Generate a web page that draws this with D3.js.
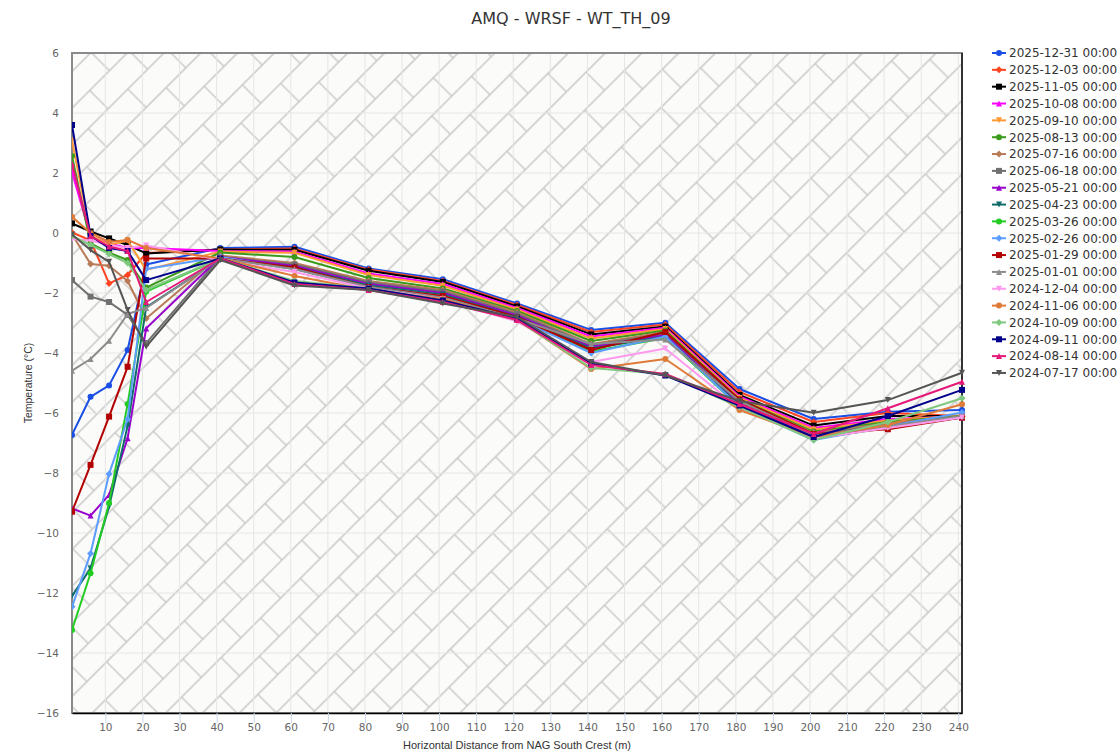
<!DOCTYPE html>
<html><head><meta charset="utf-8">
<script src="https://cdn.jsdelivr.net/npm/d3@7/dist/d3.min.js"></script>
<style>body{margin:0;background:#fff}</style>
</head><body>
<svg id="chart" width="1120" height="755"></svg>
<script>
// ---------- DATA ----------
const distances = [1,6,11,16,21,41,61,81,101,121,141,161,181,201,221,241];
const xTicks = [10,20,30,40,50,60,70,80,90,100,110,120,130,140,150,160,170,180,190,200,210,220,230,240];
const yTicks = [-16,-14,-12,-10,-8,-6,-4,-2,0,2,4,6];

const seriesNames = ["2025-12-31 00:00","2025-12-03 00:00","2025-11-05 00:00","2025-10-08 00:00","2025-09-10 00:00",
  "2025-08-13 00:00","2025-07-16 00:00","2025-06-18 00:00","2025-05-21 00:00","2025-04-23 00:00",
  "2025-03-26 00:00","2025-02-26 00:00","2025-01-29 00:00","2025-01-01 00:00","2024-12-04 00:00",
  "2024-11-06 00:00","2024-10-09 00:00","2024-09-11 00:00","2024-08-14 00:00","2024-07-17 00:00"];
const seriesColors = ["#1a4fe6","#ff4422","#000000","#ff00ff","#ff9933",
  "#3a9a1a","#b97a57","#707070","#9900cc","#0e6b6b",
  "#22cc22","#5c9dff","#b30000","#8c8c8c","#ff99ee",
  "#e07a38","#80c880","#00008b","#e6197a","#555555"];
const seriesSymbols = ["circle","diamond","square","triangle","triangle-down"];

const s20251231 = [-6.73,-5.46,-5.08,-3.9,-1.05,-0.5,-0.46,-1.18,-1.54,-2.35,-3.23,-2.99,-5.2,-6.2,-5.96,-5.9];
const s20251203 = [0.02,-0.25,-1.68,-1.4,-0.67,-0.55,-0.52,-1.22,-1.6,-2.4,-3.3,-3.05,-5.3,-6.3,-6.0,-6.1];
const s20251105 = [0.32,0.05,-0.18,-0.4,-0.68,-0.55,-0.56,-1.26,-1.63,-2.45,-3.38,-3.12,-5.4,-6.42,-6.1,-6.1];
const s20251008 = [2.04,-0.12,-0.35,-0.5,-0.5,-0.6,-0.62,-1.35,-1.7,-2.5,-3.45,-3.16,-5.45,-6.5,-6.2,-6.12];
const s20250910 = [3.08,-0.08,-0.4,-0.25,-1.23,-0.62,-0.66,-1.4,-1.76,-2.55,-3.52,-3.2,-5.5,-6.55,-6.25,-6.08];
const s20250813 = [2.57,-0.35,-0.66,-0.9,-1.82,-0.65,-0.8,-1.5,-1.85,-2.6,-3.6,-3.25,-5.55,-6.62,-6.3,-6.1];
const s20250716 = [-0.05,-1.03,-1.09,-1.6,-2.85,-0.75,-1.0,-1.6,-1.9,-2.65,-3.7,-3.3,-5.6,-6.66,-6.35,-6.12];
const s20250618 = [-1.57,-2.12,-2.3,-2.73,-3.67,-0.8,-1.05,-1.65,-1.95,-2.7,-3.75,-3.35,-5.65,-6.7,-6.4,-6.1];
const s20250521 = [-9.18,-9.42,-8.73,-6.84,-3.18,-0.8,-1.1,-1.7,-2.0,-2.75,-3.8,-3.4,-5.7,-6.75,-6.45,-6.15];
const s20250423 = [-12.1,-11.18,-9.12,-6.43,-2.48,-0.85,-1.15,-1.75,-2.05,-2.8,-3.85,-3.45,-5.75,-6.8,-6.5,-6.15];
const s20250326 = [-13.23,-11.34,-9.0,-5.7,-1.95,-0.85,-1.2,-1.8,-2.1,-2.85,-3.95,-3.5,-5.8,-6.85,-6.5,-6.1];
const s20250226 = [-12.46,-10.68,-8.03,-6.2,-1.2,-0.8,-1.2,-1.8,-2.1,-2.85,-4.0,-3.45,-5.8,-6.9,-6.45,-5.98];
const s20250129 = [-9.29,-7.73,-6.12,-4.46,-0.85,-0.85,-1.15,-1.8,-2.1,-2.8,-3.9,-3.3,-5.55,-6.7,-6.54,-6.15];
const s20250101 = [-4.59,-4.2,-3.59,-2.7,-2.5,-0.85,-1.2,-1.8,-2.15,-2.85,-3.7,-3.55,-5.6,-6.75,-6.45,-6.1];
const s20241204 = [-0.2,-0.25,-0.4,-0.5,-0.42,-0.9,-1.3,-1.85,-2.2,-2.95,-4.3,-3.85,-5.85,-6.85,-6.5,-6.15];
const s20241106 = [0.54,0.0,-0.3,-0.23,-0.5,-0.85,-1.43,-1.9,-2.2,-2.9,-4.53,-4.2,-5.9,-6.8,-6.4,-5.71];
const s20241009 = [-0.1,-0.4,-0.7,-1.0,-1.9,-0.85,-1.6,-1.85,-2.25,-2.9,-4.5,-4.7,-5.8,-6.9,-6.3,-5.51];
const s20240911 = [3.6,-0.1,-0.5,-0.6,-1.57,-0.85,-1.65,-1.85,-2.25,-2.85,-4.35,-4.75,-5.75,-6.8,-6.1,-5.23];
const s20240814 = [2.3,-0.1,-0.45,-0.6,-2.3,-0.85,-1.7,-1.9,-2.3,-2.9,-4.4,-4.7,-5.7,-6.7,-5.84,-4.96];
const s20240717 = [-0.05,-0.57,-0.96,-2.57,-3.79,-0.9,-1.75,-1.9,-2.35,-2.8,-4.3,-4.75,-5.6,-5.99,-5.57,-4.66];

const seriesValues = [s20251231,s20251203,s20251105,s20251008,s20250910,s20250813,s20250716,s20250618,
  s20250521,s20250423,s20250326,s20250226,s20250129,s20250101,s20241204,s20241106,s20241009,
  s20240911,s20240814,s20240717];

const titleText = "AMQ - WRSF - WT_TH_09";
const xTitle = "Horizontal Distance from NAG South Crest (m)";
const yTitle = "Temperature (°C)";

// ---------- LAYOUT ----------
const L = 72, R = 962, T = 53, B = 713;
const svg = d3.select("#chart");
const x = d3.scaleLinear().domain([1,241]).range([L,R]);
const y = d3.scaleLinear().domain([-16,6]).range([B,T]);

function symbolPath(type, cx, cy, r){
  switch(type){
    case "circle": return `M${cx-r},${cy}a${r},${r} 0 1,0 ${2*r},0a${r},${r} 0 1,0 ${-2*r},0Z`;
    case "square": return `M${cx-r},${cy-r}h${2*r}v${2*r}h${-2*r}Z`;
    case "diamond": return `M${cx},${cy-r-0.5}L${cx+r+0.5},${cy}L${cx},${cy+r+0.5}L${cx-r-0.5},${cy}Z`;
    case "triangle": return `M${cx},${cy-r}L${cx+r},${cy+r}L${cx-r},${cy+r}Z`;
    default: return `M${cx-r},${cy-r}L${cx+r},${cy-r}L${cx},${cy+r}Z`;
  }
}

// pattern background (rotated brick)
const PW = 56, PH = 52;
const defs = svg.append("defs");
const pat = defs.append("pattern").attr("id","hatch").attr("patternUnits","userSpaceOnUse")
  .attr("width",PW).attr("height",PH).attr("patternTransform","translate(72,53) rotate(-45)");
pat.append("rect").attr("width",PW).attr("height",PH).attr("fill","#fbfbf9");
["M0,13H56","M0,39H56","M14,13V39","M42,39V52","M42,0V13"].forEach(d=>{
  pat.append("path").attr("d",d).attr("stroke","#c9c9c9").attr("stroke-width",1.4).attr("fill","none");
});
defs.append("clipPath").attr("id","clip").append("rect").attr("x",L).attr("y",T-6).attr("width",R-L+6).attr("height",B-T+12);

svg.append("rect").attr("x",L).attr("y",T).attr("width",R-L).attr("height",B-T).attr("fill","url(#hatch)");

// gridlines
const grid = svg.append("g");
grid.selectAll("line.v").data(xTicks).enter().append("line")
  .attr("x1",d=>x(d)).attr("x2",d=>x(d)).attr("y1",T).attr("y2",B)
  .attr("stroke","#e6e6e6").attr("stroke-width",1);
grid.selectAll("line.h").data(yTicks).enter().append("line")
  .attr("x1",L).attr("x2",R).attr("y1",d=>y(d)).attr("y2",d=>y(d))
  .attr("stroke","#e6e6e6").attr("stroke-width",1);

// border
svg.append("rect").attr("x",L).attr("y",T).attr("width",R-L).attr("height",B-T)
  .attr("fill","none").attr("stroke","#8a8a8a").attr("stroke-width",2);
svg.append("line").attr("x1",R).attr("x2",R).attr("y1",T).attr("y2",B).attr("stroke","#333").attr("stroke-width",2);

// axes
const xAxis = svg.append("g").attr("transform",`translate(0,${B})`)
  .call(d3.axisBottom(x).tickValues(xTicks).tickSize(10).tickPadding(1).tickSizeOuter(0));
xAxis.select(".domain").attr("stroke","#000").attr("stroke-width",1.5);
xAxis.selectAll(".tick line").attr("stroke","#ccd6eb");
xAxis.selectAll(".tick text").attr("fill","#666").style("font-family","DejaVu Sans").style("font-size","10.5px");

const yAxis = svg.append("g").attr("transform",`translate(${L},0)`)
  .call(d3.axisLeft(y).tickValues(yTicks).tickSize(0).tickPadding(13));
yAxis.select(".domain").remove();
yAxis.selectAll(".tick text").attr("fill","#666").style("font-family","DejaVu Sans").style("font-size","10.5px");

// series
const line = d3.line().x((d,i)=>x(distances[i])).y(d=>y(d));
const plot = svg.append("g").attr("clip-path","url(#clip)");
seriesValues.forEach((vals,si)=>{
  const col = seriesColors[si];
  const sym = seriesSymbols[si % 5];
  plot.append("path").datum(vals).attr("d",line).attr("fill","none")
    .attr("stroke",col).attr("stroke-width",2).attr("stroke-linejoin","round");
  plot.selectAll(null).data(vals).enter().append("path")
    .attr("d",(d,i)=>symbolPath(sym, x(distances[i]), y(d), 3))
    .attr("fill",col);
});

// titles
svg.append("text").attr("x",571).attr("y",24).attr("text-anchor","middle")
  .attr("fill","#333").style("font-family","DejaVu Sans").style("font-size","16px").text(titleText);
svg.append("text").attr("x",517).attr("y",749).attr("text-anchor","middle")
  .attr("fill","#333").style("font-family","Liberation Sans").style("font-size","11px").text(xTitle);
svg.append("text").attr("transform","translate(32,383) rotate(-90)").attr("text-anchor","middle")
  .attr("fill","#333").style("font-family","Liberation Sans").style("font-size","10.5px").text(yTitle);

// legend
const lg = svg.append("g");
seriesNames.forEach((name,i)=>{
  const ly = 53 + i*16.84;
  const g = lg.append("g");
  g.append("line").attr("x1",992).attr("x2",1006).attr("y1",ly).attr("y2",ly)
    .attr("stroke",seriesColors[i]).attr("stroke-width",2);
  g.append("path").attr("d",symbolPath(seriesSymbols[i%5],999,ly,3)).attr("fill",seriesColors[i]);
  g.append("text").attr("x",1009).attr("y",ly+4.3).attr("fill","#333")
    .style("font-family","DejaVu Sans").style("font-size","12px").text(name);
});
</script>
</body></html>
